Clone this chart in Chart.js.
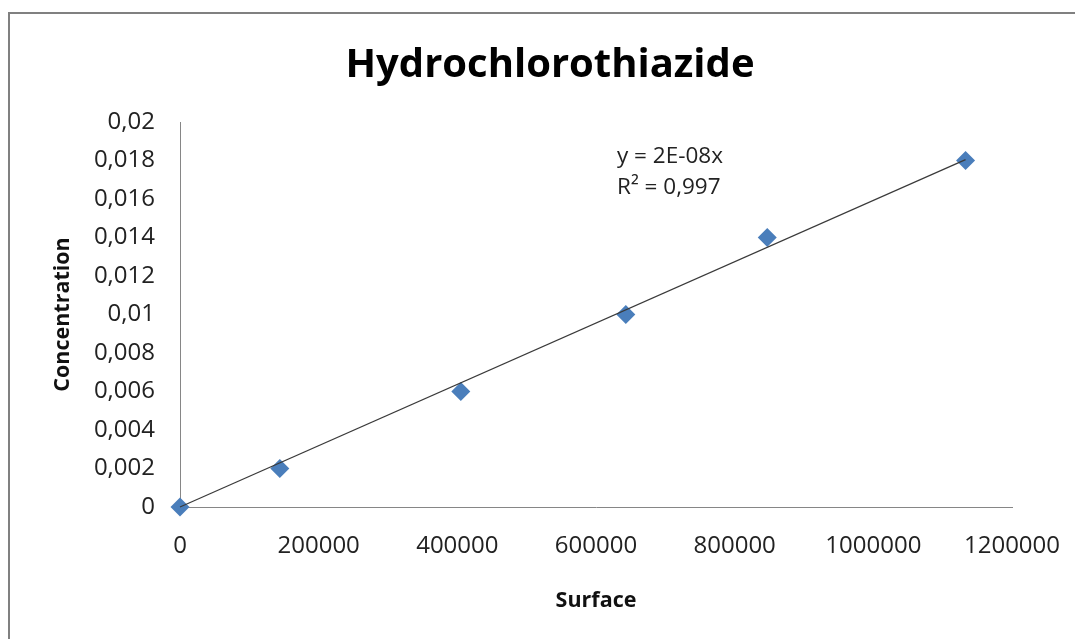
<!DOCTYPE html>
<html>
<head>
<meta charset="utf-8">
<script src="https://cdn.jsdelivr.net/npm/chart.js@4/dist/chart.umd.min.js"></script>
<style>
  html, body { margin: 0; padding: 0; background: #ffffff; }
  #wrap { position: relative; width: 1075px; height: 639px; }
</style>
</head>
<body>
<div id="wrap"><canvas id="c"></canvas></div>
<script>
// ---- data ----
const surface = [0, 144000, 405000, 643000, 847000, 1133000];
const concentration = [0, 0.002, 0.006, 0.010, 0.014, 0.018];
const xTickValues = [0, 200000, 400000, 600000, 800000, 1000000, 1200000];
const xTickLabels = ['0', '200000', '400000', '600000', '800000', '1000000', '1200000'];
const yTickValues = [0, 0.002, 0.004, 0.006, 0.008, 0.01, 0.012, 0.014, 0.016, 0.018, 0.02];
const yTickLabels = ['0', '0,002', '0,004', '0,006', '0,008', '0,01', '0,012', '0,014', '0,016', '0,018', '0,02'];
const chartTitle = 'Hydrochlorothiazide';
const xTitle = 'Surface';
const yTitle = 'Concentration';
const equationLines = ['y = 2E-08x', 'R\u00B2 = 0,997'];

// linear trendline through origin (least squares from the data)
let sxy = 0, sxx = 0;
for (let i = 0; i < surface.length; i++) { sxy += surface[i] * concentration[i]; sxx += surface[i] * surface[i]; }
const slope = sxy / sxx;
const xMaxData = Math.max(...surface);
const trend = [{x: 0, y: 0}, {x: xMaxData, y: slope * xMaxData}];

const points = surface.map((x, i) => ({x: x, y: concentration[i]}));

const FONT = '"Open Sans", Lato, sans-serif';

function labelFor(values, labels, v) {
  for (let i = 0; i < values.length; i++) if (Math.abs(values[i] - v) < 1e-9 * Math.max(1, Math.abs(v))) return labels[i];
  return '';
}

const decor = {
  id: 'decor',
  beforeDraw(chart) {
    const ctx = chart.ctx;
    ctx.save();
    ctx.fillStyle = '#ffffff';
    ctx.fillRect(0, 0, chart.width, chart.height);
    ctx.strokeStyle = '#808080';
    ctx.lineWidth = 2;
    ctx.beginPath();
    ctx.moveTo(9, chart.height + 5);
    ctx.lineTo(9, 13);
    ctx.lineTo(chart.width + 5, 13);
    ctx.stroke();
    ctx.restore();
  },
  afterDraw(chart) {
    const ctx = chart.ctx;
    const a = chart.chartArea;
    ctx.save();
    ctx.fillStyle = '#000000';
    ctx.textAlign = 'center';
    ctx.textBaseline = 'alphabetic';
    ctx.font = 'bold 40px ' + FONT;
    ctx.fillText(chartTitle, 550, 77);
    ctx.textAlign = 'left';
    ctx.font = '22.5px ' + FONT;
    ctx.fillStyle = '#222222';
    ctx.fillText(equationLines[0], a.left + 437, 163);
    ctx.fillText(equationLines[1], a.left + 437, 194);
    ctx.restore();
  }
};

new Chart(document.getElementById('c'), {
  type: 'scatter',
  data: {
    datasets: [
      {
        label: 'Trend',
        data: trend,
        showLine: true,
        borderColor: '#3a3a3a',
        borderWidth: 1.2,
        pointRadius: 0,
        pointHoverRadius: 0,
        fill: false,
        clip: false,
        order: 0
      },
      {
        label: 'Concentration',
        data: points,
        pointStyle: 'rectRot',
        pointRadius: 9.5,
        pointHoverRadius: 9.5,
        backgroundColor: '#4a7ebb',
        borderColor: '#4a7ebb',
        borderWidth: 0,
        showLine: false,
        clip: false,
        order: 1
      }
    ]
  },
  options: {
    responsive: true,
    maintainAspectRatio: false,
    animation: false,
    events: [],
    layout: { padding: { left: 40, right: 63, top: 122, bottom: 20 } },
    plugins: {
      legend: { display: false },
      title: { display: false },
      tooltip: { enabled: false }
    },
    scales: {
      x: {
        type: 'linear',
        min: 0,
        max: 1200000,
        afterBuildTicks(scale) { scale.ticks = xTickValues.map(v => ({value: v})); },
        afterFit(scale) { scale.height = 112; scale.paddingLeft = 0; scale.paddingRight = 0; },
        grid: { display: false, drawTicks: false },
        border: { display: true, color: '#868686', width: 1 },
        ticks: {
          padding: 25,
          maxRotation: 0,
          autoSkip: false,
          color: '#222222',
          font: { family: FONT, size: 24 },
          callback: (v) => labelFor(xTickValues, xTickLabels, v)
        },
        title: {
          display: true,
          text: xTitle,
          color: '#111111',
          font: { family: FONT, size: 21.5, weight: 'bold' },
          padding: { top: 0, bottom: 5 }
        }
      },
      y: {
        type: 'linear',
        min: 0,
        max: 0.02,
        afterBuildTicks(scale) { scale.ticks = yTickValues.map(v => ({value: v})); },
        afterFit(scale) { scale.width = 140; scale.paddingTop = 0; scale.paddingBottom = 0; },
        grid: { display: false, drawTicks: false },
        border: { display: true, color: '#868686', width: 1 },
        ticks: {
          padding: 25,
          autoSkip: false,
          color: '#222222',
          font: { family: FONT, size: 24 },
          callback: (v) => labelFor(yTickValues, yTickLabels, v)
        },
        title: {
          display: true,
          text: yTitle,
          color: '#111111',
          font: { family: FONT, size: 21.5, weight: 'bold' },
          padding: { top: 10, bottom: 0 }
        }
      }
    }
  },
  plugins: [decor]
});
</script>
</body>
</html>
